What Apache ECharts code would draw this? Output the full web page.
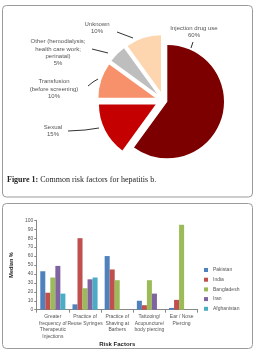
<!DOCTYPE html>
<html><head><meta charset="utf-8">
<script src="https://cdn.jsdelivr.net/npm/echarts@6/dist/echarts.min.js"></script>
<style>html,body{margin:0;padding:0;background:#fff}#c{width:257px;height:350px}</style>
</head><body><div id="c"></div>
<script>
// ---- Pie data ----
const pieNames = ['Injection drug use', 'Sexual', 'Transfusion\n(before screening)', 'Other (hemodialysis;\nhealth care work;\nperinatal)', 'Unknown'];
const pieValues = [60, 15, 10, 5, 10];
const pieColors = ['#7c0000', '#c40000', '#f6916b', '#bebebe', '#fdd5ae'];

// ---- Bar data ----
const riskFactors = ['Greater\nfrequency of\nTherapeutic\nInjections', 'Practice of\nReuse Syringes', 'Practice of\nShaving at\nBarbers', 'Tattooing/\nAcupuncture/\nbody piercing', 'Ear / Nose\nPiercing'];
const countries = ['Pakistan', 'India', 'Bangladesh', 'Iran', 'Afghanistan'];
const pakistan = [43, 6, 60, 10, 2];
const india = [19, 80, 45, 5, 11];
const bangladesh = [36, 24, 33, 33, 95];
const iran = [49, 34, null, 18, null];
const afghanistan = [18, 36, null, null, null];
const countryValues = [pakistan, india, bangladesh, iran, afghanistan];
const countryColors = ['#4f81bd', '#c0504d', '#9bbb59', '#8064a2', '#4bacc6'];

// ---- layout (not data) ----
const pieCenter = [163.7, 100.5];
const pieRadius = 56.7;
const labelPos = [[194, 32], [53, 130.5], [54, 89], [58, 52.5], [97, 28]];
const leaderLines = [
  [[193, 42], [192, 45], [191, 48]],
  [[68, 131], [85, 130], [99, 128]],
  [[88, 86], [93, 82], [98, 79]],
  [[92, 49], [100, 51], [108, 53]],
  [[117, 32], [125, 35], [133, 38]]
];

function pieSeries(showIdx, offset) {
  return {
    type: 'pie', center: pieCenter, radius: pieRadius, startAngle: 90, clockwise: true,
    silent: true, selectedMode: 'multiple', selectedOffset: offset,
    label: {show: false}, labelLine: {show: false},
    select: {itemStyle: {borderWidth: 0}},
    data: pieValues.map((v, i) => ({
      name: pieNames[i], value: v, selected: showIdx(i),
      itemStyle: {color: showIdx(i) ? pieColors[i] : 'rgba(0,0,0,0)', borderWidth: 0}
    }))
  };
}

const chart = echarts.init(document.getElementById('c'), null, {renderer: 'canvas'});
chart.setOption({
  animation: false,
  backgroundColor: '#fff',
  textStyle: {fontFamily: 'Liberation Sans'},
  graphic: [
    {type: 'rect', z: -10, shape: {x: 2.5, y: 5.5, width: 250, height: 191.5, r: 4}, style: {fill: 'none', stroke: '#9a9a9a', lineWidth: 1}},
    {type: 'rect', z: -10, shape: {x: 2.5, y: 203.5, width: 250, height: 145, r: 4}, style: {fill: 'none', stroke: '#9a9a9a', lineWidth: 1}},
    {type: 'text', x: 7, y: 179.5, style: {
      text: '{b|Figure 1:}{n| Common risk factors for hepatitis b.}',
      verticalAlign: 'middle', textVerticalAlign: 'middle',
      rich: {
        b: {fontFamily: 'Liberation Serif', fontSize: 8, fontWeight: 'bold', fill: '#222', color: '#222'},
        n: {fontFamily: 'Liberation Serif', fontSize: 8, fill: '#222', color: '#222'}
      }
    }}
  ],
  legend: {
    orient: 'vertical', left: 204, top: 267, padding: 0,
    itemWidth: 4, itemHeight: 4, itemGap: 3.7, icon: 'rect',
    data: countries,
    textStyle: {fontSize: 5, lineHeight: 6, color: '#555', fontFamily: 'Liberation Sans'}
  },
  grid: {left: 27.7, top: 220.3, width: 170, height: 89.4, containLabel: false},
  xAxis: {
    type: 'category', data: riskFactors,
    axisLine: {lineStyle: {color: '#888', width: 1}},
    axisTick: {show: true, length: 3, lineStyle: {color: '#888'}},
    axisLabel: {interval: 0, fontSize: 5, lineHeight: 6.7, color: '#555', margin: 3.5},
    name: 'Risk Factors', nameLocation: 'middle', nameGap: 29.5,
    nameTextStyle: {fontSize: 6, fontWeight: 'bold', color: '#222'}
  },
  yAxis: {
    type: 'value', min: 0, max: 100, interval: 10,
    axisLine: {show: true, lineStyle: {color: '#888', width: 1}},
    axisTick: {show: true, length: 2.5, lineStyle: {color: '#888'}},
    axisLabel: {fontSize: 5, color: '#555', margin: 3.5},
    splitLine: {show: false},
    name: 'Median %', nameLocation: 'middle', nameGap: 11, nameRotate: 90,
    nameTextStyle: {fontSize: 5.5, fontWeight: 'bold', color: '#222'}
  },
  series: [
    pieSeries(i => i === 0, 3.8),
    pieSeries(i => i !== 0, 9),
    {
      type: 'pie', center: pieCenter, radius: pieRadius, startAngle: 90, clockwise: true,
      silent: true, avoidLabelOverlap: false, z: 5,
      itemStyle: {color: 'rgba(0,0,0,0)', borderWidth: 0},
      label: {
        show: true, position: 'outside', color: '#555', fontSize: 6, lineHeight: 7.3,
        fontFamily: 'Liberation Sans', align: 'center',
        formatter: p => p.name + '\n' + p.value + '%'
      },
      labelLine: {show: true, length: 5, length2: 5, lineStyle: {color: '#333', width: 1}},
      labelLayout: p => ({
        x: labelPos[p.dataIndex][0], y: labelPos[p.dataIndex][1],
        align: 'center', verticalAlign: 'middle',
        labelLinePoints: leaderLines[p.dataIndex]
      }),
      data: pieValues.map((v, i) => ({name: pieNames[i], value: v}))
    },
    ...countries.map((c, k) => ({
      type: 'bar', name: c, data: countryValues[k],
      barGap: '0%', barCategoryGap: '22%',
      itemStyle: {color: countryColors[k]}
    }))
  ]
});
</script></body></html>
